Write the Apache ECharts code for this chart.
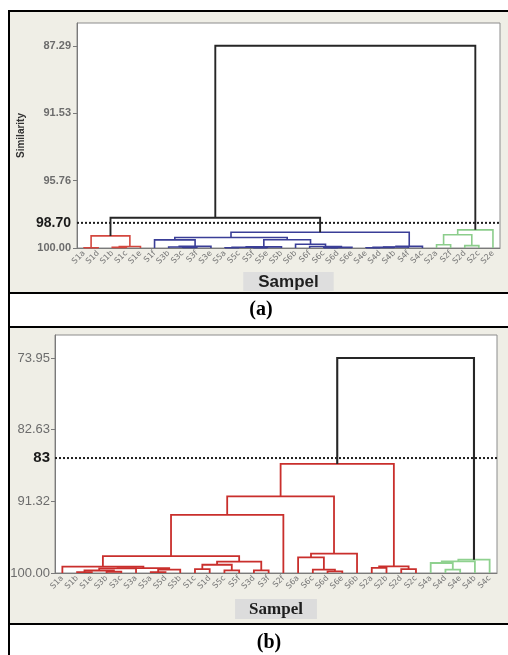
<!DOCTYPE html>
<html><head><meta charset="utf-8">
<script src="https://cdn.jsdelivr.net/npm/echarts@6/dist/echarts.min.js"></script>
<style>html,body{margin:0;padding:0;background:#fff}#c{width:508px;height:655px}</style>
</head><body><div id="c"></div>
<script>
// ---------- Panel (a) ----------
const leavesA = ['S1a','S1d','S1b','S1c','S1e','S1f','S3b','S3c','S3f','S3e','S5a','S5c','S5f','S5e','S5b',
  'S6b','S6f','S6c','S6d','S6e','S4e','S4d','S4b','S4f','S4c','S2a','S2f','S2d','S2c','S2e'];
// merges: [child1, child2, similarity]; ids >= leaves.length refer to earlier merges
const mergesA = [
  [0,1,99.98],[2,3,99.96],[31,4,99.91],[30,32,99.24],
  [7,8,99.97],[6,34,99.94],[35,9,99.90],[5,36,99.49],
  [10,11,99.98],[12,13,99.98],[38,39,99.95],[40,14,99.93],
  [17,18,99.98],[42,19,99.96],[16,43,99.91],[15,44,99.76],
  [41,45,99.48],[37,46,99.34],
  [20,21,99.98],[48,22,99.96],[49,23,99.94],[50,24,99.90],
  [47,51,99.01],
  [25,26,99.80],[27,28,99.85],[53,54,99.17],[55,29,98.86],
  [33,52,98.10],[57,56,87.29]
];
const groupsA = ['red','red','red','red',
  'blue','blue','blue','blue','blue','blue','blue','blue','blue','blue','blue','blue','blue','blue',
  'blue','blue','blue','blue','blue',
  'green','green','green','green','black','black'];
const yTicksA = [87.29, 91.53, 95.76, 100.00];
const cutPosA = 98.42, cutLabelA = '98.70';

// ---------- Panel (b) ----------
const leavesB = ['S1a','S1b','S1e','S3b','S3c','S3a','S5a','S5d','S5b','S1c','S1d','S5c','S5f','S3d','S3f',
  'S2f','S6a','S6c','S6d','S6e','S6b','S2a','S2b','S2d','S2c','S4a','S4d','S4e','S4b','S4c'];
const mergesB = [
  [1,2,99.90],[3,4,99.85],[30,31,99.70],[32,5,99.45],[6,7,99.90],[34,8,99.60],[33,35,99.40],[0,36,99.22],
  [9,10,99.52],[11,12,99.68],[38,39,99.00],[13,14,99.68],[40,41,98.62],
  [37,42,97.95],[43,15,92.95],
  [18,19,99.80],[17,45,99.60],[16,46,98.10],[47,20,97.66],
  [44,48,90.71],
  [21,22,99.39],[23,24,99.52],[50,51,99.20],
  [49,52,86.78],
  [26,27,99.60],[25,54,98.79],[55,28,98.59],[56,29,98.39],
  [53,57,73.95]
];
const groupsB = ['red','red','red','red','red','red','red','red','red','red','red','red','red',
  'red','red','red','red','red','red','red','red','red','red','red',
  'green','green','green','green','black'];
const yTicksB = [73.95, 82.63, 91.32, 100.00];
const cutPosB = 86.07, cutLabelB = '83';

const colorsA = {red:'#d4473f', blue:'#3a3e97', green:'#8ccd8c', black:'#262626'};
const colorsB = {red:'#c92f2c', green:'#8fd18f', black:'#262626'};

function buildLinks(leaves, merges, groups) {
  const n = leaves.length, pos = [], hgt = [], links = [];
  for (let i = 0; i < n; i++) { pos[i] = i; hgt[i] = 100; }
  merges.forEach((m, k) => {
    const [a, b, h] = m, id = n + k;
    pos[id] = (pos[a] + pos[b]) / 2; hgt[id] = h;
    links.push({value: [pos[a], hgt[a], h, pos[b], hgt[b]], group: groups[k]});
  });
  return links;
}
const linksA = buildLinks(leavesA, mergesA, groupsA);
const linksB = buildLinks(leavesB, mergesB, groupsB);

function dendroSeries(links, colors, gi, lw) {
  return {
    type: 'custom', xAxisIndex: gi, yAxisIndex: gi, z: 3,
    encode: {x: [0, 3], y: [1, 2, 4]},
    data: links.map(l => l.value),
    renderItem: function (params, api) {
      const g = links[params.dataIndex].group;
      const p1 = api.coord([api.value(0), api.value(1)]);
      const p2 = api.coord([api.value(0), api.value(2)]);
      const p3 = api.coord([api.value(3), api.value(2)]);
      const p4 = api.coord([api.value(3), api.value(4)]);
      return {type: 'polyline', shape: {points: [p1, p2, p3, p4]},
        style: {stroke: colors[g], lineWidth: g === 'black' ? lw + 0.3 : lw, fill: null}};
    }
  };
}
function cutSeries(n, cut, gi) {
  return {type: 'line', xAxisIndex: gi, yAxisIndex: gi, symbol: 'none', z: 2, silent: true,
    data: [[-0.5, cut], [n - 0.5, cut]],
    lineStyle: {color: '#1e1e1e', width: 2, type: [2, 2]}};
}

const idxA = leavesA.map((_, i) => i), idxB = leavesB.map((_, i) => i);

const option = {
  animation: false,
  backgroundColor: 'transparent',
  grid: [
    {left: 77, top: 23, width: 423, height: 225, show: true, backgroundColor: '#ffffff', borderColor: '#8c8c8c', borderWidth: 1},
    {left: 55, top: 335, width: 442, height: 238, show: true, backgroundColor: '#ffffff', borderColor: '#8c8c8c', borderWidth: 1}
  ],
  xAxis: [
    {type: 'value', gridIndex: 0, min: -0.5, max: leavesA.length - 0.5, position: 'bottom',
      axisLine: {onZero: false, lineStyle: {color: '#7a7a7a'}}, axisTick: {show: false}, splitLine: {show: false},
      axisLabel: {customValues: idxA, formatter: v => leavesA[v], rotate: 45, margin: 4, fontSize: 8,
        color: '#777', fontFamily: 'DejaVu Sans'},
      name: 'Sampel', nameLocation: 'middle', nameGap: 24, nameMoveOverlap: false,
      nameTextStyle: {fontFamily: 'Liberation Sans', fontWeight: 'bold', fontSize: 17, color: '#1e1e1e',
        backgroundColor: '#dedede', padding: [1, 15, 0, 15], lineHeight: 18}},
    {type: 'value', gridIndex: 1, min: -0.5, max: leavesB.length - 0.5, position: 'bottom',
      axisLine: {onZero: false, lineStyle: {color: '#7a7a7a'}}, axisTick: {show: false}, splitLine: {show: false},
      axisLabel: {customValues: idxB, formatter: v => leavesB[v], rotate: 45, margin: 4, fontSize: 8,
        color: '#777', fontFamily: 'DejaVu Sans'},
      name: 'Sampel', nameLocation: 'middle', nameGap: 26, nameMoveOverlap: false,
      nameTextStyle: {fontFamily: 'Liberation Serif', fontWeight: 'bold', fontSize: 17, color: '#1e1e1e',
        backgroundColor: '#dcdcdc', padding: [1, 14, 0, 14], lineHeight: 19}}
  ],
  yAxis: [
    {type: 'value', gridIndex: 0, inverse: true, min: 85.86, max: 100,
      axisLine: {show: true, onZero: false, lineStyle: {color: '#7a7a7a'}}, splitLine: {show: false},
      axisTick: {show: true, customValues: yTicksA, length: 4, lineStyle: {color: '#7a7a7a'}},
      axisLabel: {customValues: yTicksA.concat([cutPosA]), margin: 6,
        formatter: v => Math.abs(v - cutPosA) < 1e-6 ? '{cut|' + cutLabelA + '}' : v.toFixed(2),
        fontSize: 11, fontWeight: 'bold', color: '#6c6c6c', fontFamily: 'Liberation Sans',
        rich: {cut: {fontSize: 14, fontWeight: 'bold', color: '#1a1a1a', fontFamily: 'Liberation Sans'}}},
      name: 'Similarity', nameLocation: 'middle', nameGap: 51, nameMoveOverlap: false,
      nameTextStyle: {fontSize: 10, fontWeight: 'bold', color: '#333', fontFamily: 'Liberation Sans'}},
    {type: 'value', gridIndex: 1, inverse: true, min: 71.16, max: 100,
      axisLine: {show: true, onZero: false, lineStyle: {color: '#7a7a7a'}}, splitLine: {show: false},
      axisTick: {show: true, customValues: yTicksB, length: 4, lineStyle: {color: '#7a7a7a'}},
      axisLabel: {customValues: yTicksB.concat([cutPosB]), margin: 5,
        formatter: v => Math.abs(v - cutPosB) < 1e-6 ? '{cut|' + cutLabelB + '}' : v.toFixed(2),
        fontSize: 13, color: '#6c6c6c', fontFamily: 'Liberation Sans',
        rich: {cut: {fontSize: 15, fontWeight: 'bold', color: '#1a1a1a', fontFamily: 'Liberation Sans'}}}}
  ],
  series: [
    cutSeries(leavesA.length, cutPosA, 0),
    dendroSeries(linksA, colorsA, 0, 1.6),
    cutSeries(leavesB.length, cutPosB, 1),
    dendroSeries(linksB, colorsB, 1, 1.8)
  ],
  graphic: [
    {type: 'rect', z: -10, shape: {x: 10, y: 12, width: 498, height: 280}, style: {fill: '#efeee6'}},
    {type: 'rect', z: -10, shape: {x: 10, y: 328, width: 498, height: 295}, style: {fill: '#efeee6'}},
    {type: 'line', shape: {x1: 9, y1: 10, x2: 9, y2: 655}, style: {stroke: '#000', lineWidth: 2}},
    {type: 'line', shape: {x1: 8, y1: 11, x2: 508, y2: 11}, style: {stroke: '#000', lineWidth: 2}},
    {type: 'line', shape: {x1: 8, y1: 293, x2: 508, y2: 293}, style: {stroke: '#000', lineWidth: 2}},
    {type: 'line', shape: {x1: 8, y1: 327, x2: 508, y2: 327}, style: {stroke: '#000', lineWidth: 2}},
    {type: 'line', shape: {x1: 8, y1: 624, x2: 508, y2: 624}, style: {stroke: '#000', lineWidth: 2}},
    {type: 'text', style: {text: '(a)', x: 261, y: 310, align: 'center', verticalAlign: 'middle',
      font: 'bold 20px "Liberation Serif"', fill: '#000'}},
    {type: 'text', style: {text: '(b)', x: 269, y: 643, align: 'center', verticalAlign: 'middle',
      font: 'bold 20px "Liberation Serif"', fill: '#000'}}
  ]
};
const chart = echarts.init(document.getElementById('c'), null, {renderer: 'canvas'});
chart.setOption(option);
</script></body></html>
